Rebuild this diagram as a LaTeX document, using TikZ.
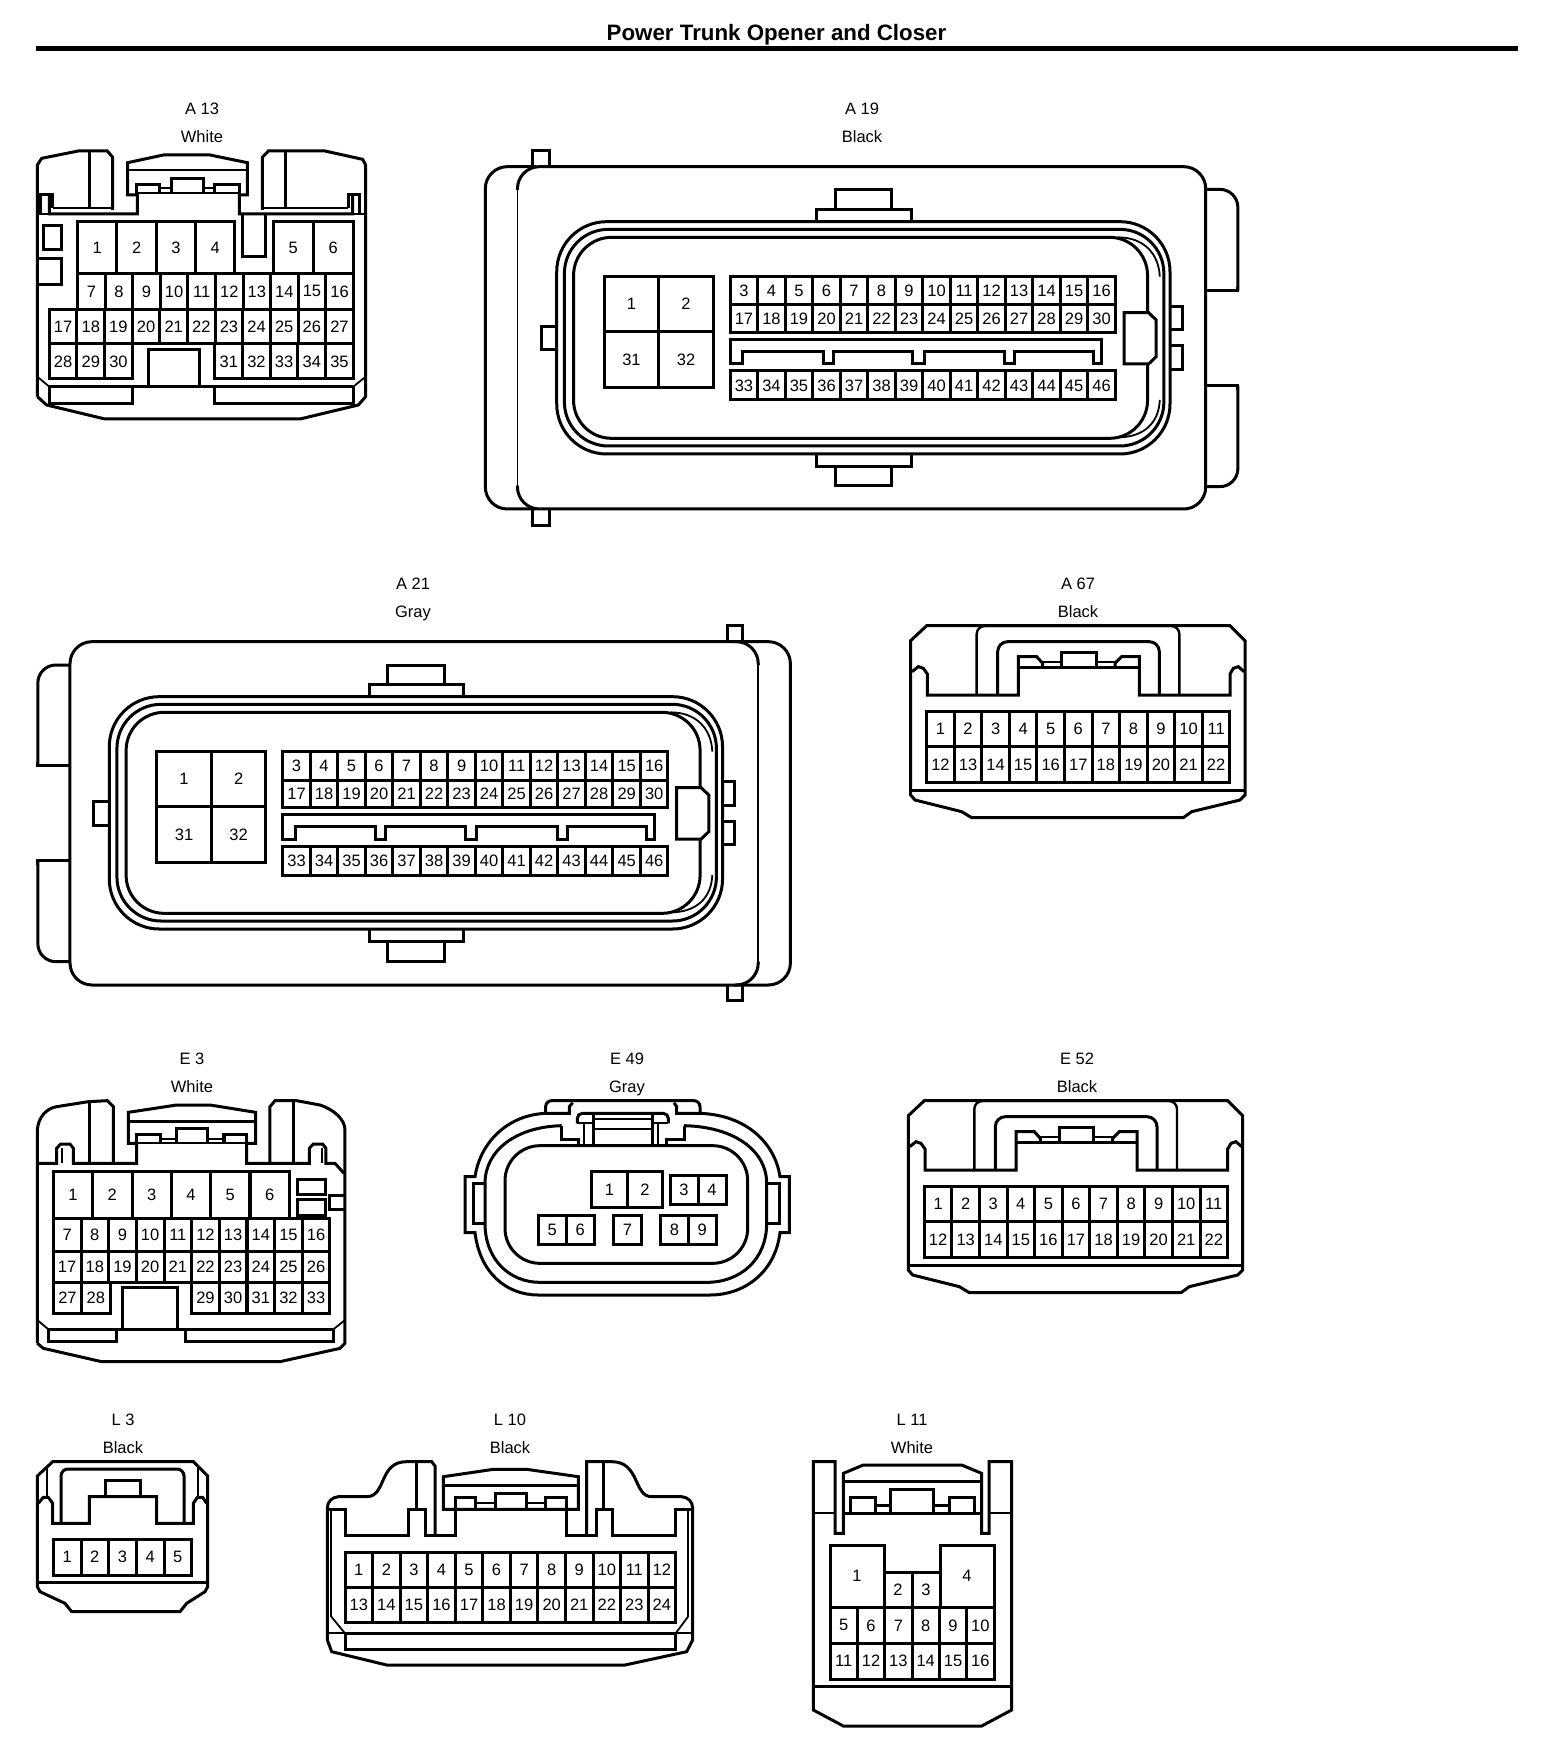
\documentclass[tikz,border=0pt]{standalone}
\usepackage{fontspec}
\setmainfont{Liberation Sans}
\tikzset{
  zthree/.style 2 args={shift={(#1pt,-#2pt)},x=.33333pt,y=-.33333pt},
  zwide/.style 2 args={shift={(#1pt,-#2pt)},x=.5102pt,y=-.33333pt},
  ln/.style={draw=black,line width=3pt,line join=miter},
  tn/.style={draw=black,line width=1.8pt},
  cellbox/.style={draw=black,line width=3pt},
  pin/.style={inner sep=0pt,text=black,font=\fontsize{16.5}{18}\selectfont},
  lab/.style={inner sep=0pt,anchor=base,text=black,font=\fontsize{16.5}{18}\selectfont},
}
% ytop ybot first x0 pitch count
\newcommand\pinrow[6]{\foreach \ci in {1,...,#6}{%
  \pgfmathsetmacro\xa{#4+(\ci-1)*#5}%
  \pgfmathsetmacro\xb{\xa+#5}%
  \pgfmathtruncatemacro\pn{#3+\ci-1}%
  \draw[cellbox] (\xa,#1) rectangle (\xb,#2);
  \node[pin] (\cname-\pn) at ({(\xa+\xb)/2},{(#1+#2)/2}) {\pn};
}}
\newcommand\clabel[4]{%
  \node[lab] (lab#1a) at (#2pt,-114pt-#4pt) {#1};
  \node[lab] (lab#1b) at (#2pt,-142.5pt-#4pt) {#3};
}
\newcommand\ecuinner{%
  \draw[ln] (680,272)--(680,238)--(865,238)--(865,272);
  \draw[ln] (716,238)--(716,180)--(827,180)--(827,238);
  \draw[ln] (680,975)--(680,1010)--(865,1010)--(865,975);
  \draw[ln] (716,1010)--(716,1068)--(827,1068)--(827,1010);
  \draw[ln] (170,590)--(140,590)--(140,660)--(170,660);
  \draw[ln] (1372,530)--(1396,530)--(1396,600)--(1372,600);
  \draw[ln] (1372,648)--(1396,648)--(1396,718)--(1372,718);
  \draw[ln,rounded corners=50pt] (170,275) rectangle (1372,972);
  \draw[ln,rounded corners=44pt] (185,298) rectangle (1360,948);
  \draw[ln,rounded corners=38pt] (203,322) rectangle (1328,925);
  \draw[tn] (1270,322) .. controls (1320,322) and (1350,370) .. (1352,440);
  \draw[tn] (1270,922) .. controls (1320,922) and (1350,880) .. (1352,810);
  \filldraw[ln,fill=white] (1330,548)--(1282,548)--(1282,702)--(1330,702)--(1345,680)--(1345,570)--cycle;
  \pinrow{440}{605}{1}{263}{107}{2}
  \pinrow{605}{773}{31}{263}{107}{2}
  \pinrow{440}{525}{3}{510}{53.93}{14}
  \pinrow{525}{607}{17}{510}{53.93}{14}
  \pinrow{723}{810}{33}{510}{53.93}{14}
  \draw[ln] (510,628)--(1238,628)--(1238,702)--(1222,702)--(1222,665)--(1068,665)--(1068,702)--(1048,702)--(1048,665)--(890,665)--(890,702)--(868,702)--(868,665)--(712,665)--(712,702)--(692,702)--(692,665)--(535,665)--(535,702)--(510,702)--cycle;
}
\newcommand\tsuit{%
  \draw[ln] (110,77)--(1020,77)--(1065,122)--(1065,585)--(1050,600)--(905,635)--(880,653)--(245,653)--(215,635)--(75,600)--(62,585)--(62,122)--cycle;
  \draw[ln] (62,570)--(1065,570);
  \draw[ln] (66,215)--(85,200)--(100,205)--(112,222)--(112,285)--(385,285)--(385,170)--(440,170)--(458,190)--(458,203);
  \draw[ln] (1062,215)--(1045,200)--(1030,205)--(1020,222)--(1020,285)--(748,285)--(748,170)--(695,170)--(675,190)--(675,203);
  \draw[ln] (385,203)--(748,203);
  \draw[draw=black,line width=2.4pt,rounded corners=8pt] (260,285)--(260,78)--(868,78)--(868,285);
  \draw[ln,rounded corners=10pt] (323,285)--(323,125)--(808,125)--(808,285);
  \draw[ln] (515,203)--(515,157)--(618,157)--(618,203);
  \draw[tn] (458,185)--(515,185) (618,185)--(678,185);
  \pinrow{335}{440}{1}{110}{82.7}{11}
  \pinrow{440}{547}{12}{110}{82.7}{11}
}
\begin{document}
\begin{tikzpicture}
\useasboundingbox (0pt,0pt) rectangle (1568pt,-1750pt);
\fill[white] (0pt,0pt) rectangle (1568pt,-1750pt);
\node[inner sep=0pt,text=black,font=\fontsize{22.3}{24}\selectfont\bfseries] (title) at (776.5pt,-35pt) {Power Trunk Opener and Closer};
\coordinate (ruleL) at (36pt,-48.5pt);
\coordinate (ruleR) at (1518pt,-48.5pt);
\draw[line width=5pt] (ruleL)--(ruleR);

\clabel{A 13}{202}{White}{0}
\clabel{A 19}{862}{Black}{0}
\clabel{A 21}{413}{Gray}{475}
\clabel{A 67}{1078}{Black}{475}
\clabel{E 3}{192}{White}{950}
\clabel{E 49}{627}{Gray}{950}
\clabel{E 52}{1077}{Black}{950}
\clabel{L 3}{123}{Black}{1311}
\clabel{L 10}{510}{Black}{1311}
\clabel{L 11}{912}{White}{1311}

% A13
\begin{scope}[zthree={0}{80}]
\def\cname{A13}
\draw[ln] (112,950)--(112,255)--(125,235)--(235,213)--(322,213)--(338,232)--(338,390);
\draw[ln] (787,390)--(787,232)--(805,213)--(975,213)--(1088,238)--(1097,255)--(1097,950)--(1075,975)--(900,1017)--(315,1017)--(140,975)--(112,950);
\draw[ln] (268,213)--(268,385) (856,213)--(856,385);
\draw[tn] (160,385)--(338,385) (787,385)--(1045,385);
\draw[ln] (148,345)--(148,402)--(412,402)--(412,345)--(383,345)--(383,248)--(490,225)--(630,225)--(742,248)--(742,345)--(718,345)--(718,402)--(1058,402)--(1058,345);
\draw[ln] (122,402)--(122,345)--(158,345)--(158,385);
\draw[ln] (1045,385)--(1045,345)--(1080,345)--(1080,402);
\draw[tn] (112,402)--(148,402) (1058,402)--(1097,402);
\draw[ln] (728,402)--(728,530)--(798,530)--(798,402);
\draw[tn] (383,270)--(742,270);
\draw[ln] (410,345)--(410,315)--(480,315)--(480,340);
\draw[ln] (515,340)--(515,297)--(610,297)--(610,340);
\draw[ln] (645,340)--(645,315)--(718,315)--(718,345);
\draw[tn] (412,340)--(718,340) (480,325)--(515,325) (610,325)--(645,325);
\draw[ln] (130,437) rectangle (185,508);
\draw[ln] (118,535)--(185,535)--(185,615)--(118,615);
\pinrow{425}{580}{1}{233}{118}{4}
\pinrow{425}{580}{5}{820}{120}{2}
\pinrow{580}{688}{7}{233}{82.7}{10}
\pinrow{688}{792}{17}{148}{82.9}{11}
\pinrow{792}{897}{28}{148}{83}{3}
\pinrow{792}{897}{31}{645}{83}{5}
\draw[ln] (445,920)--(445,808)--(598,808)--(598,920);
\draw[tn] (112,890)--(148,920) (1060,920)--(1097,890);
\draw[ln] (148,920)--(1060,920);
\draw[ln] (148,920)--(148,970)--(398,970)--(398,920);
\draw[ln] (645,920)--(645,970)--(1060,970)--(1060,920);
\end{scope}

% A19
\begin{scope}[zwide={470}{130}]
\def\cname{A19}
\draw[ln,rounded corners=22pt] (130,110)--(30,110)--(30,1137)--(130,1137);
\draw[ln] (123,110)--(123,62)--(155,62)--(155,110);
\draw[ln] (123,1137)--(123,1187)--(155,1187)--(155,1137);
\draw[ln,rounded corners=22pt] (93,180)--(93,110)--(1442,110)--(1442,1137)--(93,1137)--(93,1067);
\draw[tn] (93,180)--(93,1067);
\draw[ln,rounded corners=18pt] (1442,178)--(1505,178)--(1505,482);
\draw[ln] (1505,470)--(1505,482)--(1442,482);
\draw[ln] (1442,768)--(1505,768)--(1505,780);
\draw[ln,rounded corners=18pt] (1505,768)--(1505,1070)--(1442,1070);
\ecuinner
\end{scope}

% A21
\begin{scope}[zwide={20}{610}]
\def\cname{A21}
\draw[ln,rounded corners=22pt] (1400,95)--(1510,95)--(1510,1125)--(1400,1125);
\draw[ln] (1387,95)--(1387,47)--(1417,47)--(1417,95);
\draw[ln] (1387,1125)--(1387,1172)--(1417,1172)--(1417,1125);
\draw[ln,rounded corners=22pt] (1447,165)--(1447,95)--(98,95)--(98,1125)--(1447,1125)--(1447,1055);
\draw[tn] (1447,165)--(1447,1055);
\draw[ln,rounded corners=18pt] (98,165)--(35,165)--(35,465);
\draw[ln] (35,455)--(35,465)--(98,465);
\draw[ln] (98,752)--(35,752)--(35,765);
\draw[ln,rounded corners=18pt] (35,752)--(35,1055)--(98,1055);
\begin{scope}[shift={(5,-15)}]
\ecuinner
\end{scope}
\end{scope}

% A67
\begin{scope}[zthree={890}{600}]
\def\cname{A67}
\tsuit
\end{scope}

% E52
\begin{scope}[zthree={890}{1080}]
\def\cname{E52}
\begin{scope}[shift={(-7,-15)}]
\tsuit
\end{scope}
\end{scope}

% E3
\begin{scope}[zthree={20}{1080}]
\def\cname{E3}
\draw[ln] (52,790)--(52,150) .. controls (55,110) and (80,85) .. (110,80)--(205,65)--(262,62)--(280,80)--(280,250);
\draw[ln] (750,250)--(750,80)--(765,62)--(830,62)--(900,75) .. controls (945,90) and (975,120) .. (975,150)--(975,790)--(960,805)--(780,845)--(245,845)--(70,805)--(52,790);
\draw[ln] (207,65)--(207,250) (820,62)--(820,250);
\draw[ln] (52,250)--(110,250)--(110,205)--(122,192)--(150,192)--(160,205)--(160,250)--(350,250)--(350,190)--(325,190)--(325,97)--(470,75)--(570,75)--(707,97)--(707,190)--(680,190)--(680,250)--(868,250)--(868,205)--(880,192)--(908,192)--(918,205)--(918,250)--(945,250)--(972,280);
\draw[tn] (125,250)--(125,205) (905,250)--(905,205);
\draw[ln] (325,125)--(707,125);
\draw[ln] (350,188)--(350,163)--(420,163)--(420,188);
\draw[ln] (468,185)--(468,145)--(562,145)--(562,185);
\draw[ln] (612,188)--(612,163)--(680,163)--(680,188);
\draw[tn] (350,188)--(680,188) (420,178)--(468,178) (562,178)--(612,178);
\draw[ln] (832,297) rectangle (918,343);
\draw[ln] (832,358) rectangle (918,405);
\draw[ln] (975,345)--(930,345)--(930,387)--(975,387);
\pinrow{275}{415}{1}{100}{118}{6}
\pinrow{415}{515}{7}{100}{83}{10}
\pinrow{515}{607}{17}{100}{83}{10}
\pinrow{607}{700}{27}{100}{85}{2}
\pinrow{607}{700}{29}{515}{83}{5}
\draw[ln] (308,748)--(308,622)--(473,622)--(473,748);
\draw[tn] (52,720)--(85,748) (940,748)--(975,720);
\draw[ln] (85,748)--(940,748);
\draw[ln] (85,748)--(85,785)--(288,785)--(288,748);
\draw[ln] (495,748)--(495,785)--(940,785)--(940,748);
\end{scope}

% E49
\begin{scope}[zthree={450}{1080}]
\def\cname{E49}
\draw[ln] (287,100) .. controls (170,105) and (90,190) .. (75,290)--(45,290)--(45,458)--(75,458) .. controls (90,580) and (170,645) .. (265,645)--(780,645) .. controls (880,645) and (975,580) .. (990,458)--(1018,458)--(1018,290)--(990,290) .. controls (975,190) and (890,105) .. (750,100);
\draw[ln,rounded corners=6pt] (287,100)--(287,62)--(750,62)--(750,100);
\draw[ln] (287,100)--(358,100)--(358,80)--(368,68);
\draw[ln] (750,100)--(680,100)--(680,80)--(672,68);
\draw[ln] (335,137) .. controls (200,140) and (105,210) .. (105,310)--(105,430) .. controls (105,540) and (180,607) .. (270,607)--(770,607) .. controls (870,607) and (950,540) .. (950,430)--(950,310) .. controls (950,210) and (850,140) .. (702,137);
\draw[ln,rounded corners=35pt] (165,197) rectangle (893,550);
\draw[ln] (105,310)--(70,310)--(70,430)--(105,430);
\draw[ln] (950,310)--(988,310)--(988,430)--(950,430);
\draw[ln,rounded corners=5pt] (382,130)--(382,100)--(655,100)--(655,130);
\draw[ln] (335,137)--(335,178)--(385,178)--(385,197);
\draw[ln] (702,137)--(702,178)--(650,178)--(650,197);
\draw[tn] (403,130)--(403,197) (625,130)--(625,197);
\draw[ln] (430,103)--(430,197) (608,103)--(608,197);
\draw[tn] (430,118)--(608,118) (430,147)--(608,147);
\draw[tn] (382,130)--(430,130) (608,130)--(655,130);
\pinrow{275}{382}{1}{425}{106.5}{2}
\pinrow{287}{372}{3}{660}{84}{2}
\pinrow{407}{492}{5}{265}{83.5}{2}
\pinrow{407}{492}{7}{490}{85}{1}
\pinrow{407}{492}{8}{632}{83}{2}
\end{scope}

% L3
\begin{scope}[zthree={20}{1440}]
\def\cname{L3}
\draw[ln] (98,65)--(520,65)--(563,108)--(563,440)--(555,455)--(500,490)--(480,515)--(155,515)--(135,490)--(60,455)--(52,440)--(52,108)--cycle;
\draw[ln] (52,428)--(563,428);
\draw[ln] (55,190)--(70,172)--(85,172)--(98,190)--(98,250)--(208,250)--(208,170)--(410,170)--(410,250)--(520,250)--(520,190)--(532,172)--(548,172)--(560,190);
\draw[tn] (82,78)--(82,172) (535,78)--(535,172);
\draw[ln,rounded corners=7pt] (123,250)--(123,87)--(492,87)--(492,250);
\draw[ln] (255,170)--(255,120)--(360,120)--(360,170);
\pinrow{298}{405}{1}{100}{83}{5}
\end{scope}

% L10
\begin{scope}[zthree={310}{1440}]
\def\cname{L10}
\draw[ln] (375,285)--(375,78)--(365,65)--(290,65) .. controls (205,65) and (230,170) .. (170,170)--(85,170) .. controls (65,172) and (52,185) .. (52,205)--(52,600)--(65,635)--(230,675)--(945,675)--(1130,635)--(1148,600)--(1148,205) .. controls (1148,185) and (1135,172) .. (1115,170)--(1025,170) .. controls (970,170) and (990,65) .. (905,65)--(830,65)--(830,285);
\draw[ln] (320,65)--(320,208) (880,65)--(880,208);
\draw[ln] (55,208)--(105,208)--(105,285)--(295,285)--(295,208)--(345,208)--(345,285)--(437,285)--(437,208);
\draw[ln] (1145,208)--(1097,208)--(1097,285)--(908,285)--(908,208)--(860,208)--(860,285)--(768,285)--(768,208);
\draw[ln] (400,208)--(400,110)--(550,88)--(650,88)--(805,110)--(805,208)--cycle;
\draw[ln] (400,135)--(805,135);
\draw[ln] (437,208)--(437,172)--(495,172)--(495,208);
\draw[ln] (555,205)--(555,160)--(650,160)--(650,205);
\draw[ln] (705,208)--(705,172)--(768,172)--(768,208);
\draw[tn] (495,188)--(555,188) (650,188)--(705,188);
\draw[tn] (64,208)--(64,530) (1134,208)--(1134,530);
\pinrow{338}{443}{1}{105}{82.67}{12}
\pinrow{443}{548}{13}{105}{82.67}{12}
\draw[tn] (64,530)--(105,580) (1134,530)--(1097,580);
\draw[ln] (105,580)--(1097,580);
\draw[ln] (105,580)--(105,628)--(1097,628)--(1097,580);
\draw[tn] (52,580)--(105,580) (1097,580)--(1148,580);
\end{scope}

% L11
\begin{scope}[zthree={800}{1440}]
\def\cname{L11}
\draw[ln] (40,65)--(105,65)--(105,280)--(130,280)--(130,100)--(190,75)--(485,75)--(545,100)--(545,280)--(567,280)--(567,65)--(635,65)--(635,810)--(545,858)--(130,858)--(40,810)--cycle;
\draw[tn] (40,220)--(105,220) (567,220)--(635,220);
\draw[ln] (130,220)--(545,220);
\draw[ln] (130,125)--(545,125);
\draw[ln] (150,218)--(150,172)--(225,172)--(225,218);
\draw[ln] (272,215)--(272,148)--(400,148)--(400,215);
\draw[ln] (447,218)--(447,172)--(522,172)--(522,218);
\draw[ln] (225,197)--(272,197) (400,197)--(447,197);
\draw[ln] (40,738)--(635,738);
\pinrow{315}{502}{1}{90}{162}{1}
\pinrow{397}{502}{2}{252}{84}{2}
\pinrow{315}{502}{4}{420}{162}{1}
\pinrow{502}{610}{5}{90}{82}{6}
\pinrow{610}{717}{11}{90}{82}{6}
\end{scope}
\end{tikzpicture}
\end{document}
